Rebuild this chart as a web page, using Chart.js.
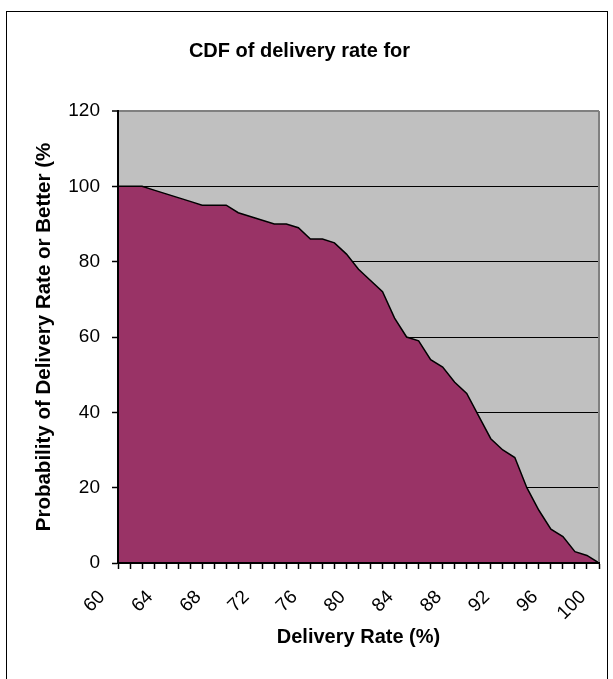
<!DOCTYPE html>
<html>
<head>
<meta charset="utf-8">
<script src="https://cdn.jsdelivr.net/npm/chart.js@4.4.1/dist/chart.umd.min.js"></script>
<style>
  html, body { margin: 0; padding: 0; background: #fff; }
  canvas { display: block; }
</style>
</head>
<body>
<canvas id="cdf" width="613" height="679"></canvas>
<script>
// categories on the x axis (delivery rate, %)
const deliveryRate = ['60','61','62','63','64','65','66','67','68','69',
                      '70','71','72','73','74','75','76','77','78','79',
                      '80','81','82','83','84','85','86','87','88','89',
                      '90','91','92','93','94','95','96','97','98','99','100'];
// probability of that delivery rate or better (%)
const probability = [100,100,100,99,98,97,96,95,95,95,
                     93,92,91,90,90,89,86,86,85,82,
                     78,75,72,65,60,59,54,52,48,45,
                     39,33,30,28,20,14,9,7,3,2,0];
// x labels that are printed (every 4th)
const shownLabels = ['60','64','68','72','76','80','84','88','92','96','100'];
const yMin = 0, yMax = 120, yStep = 20;

const font = 'Liberation Sans, Arial, sans-serif';

// grey plot area and outer frame, like the spreadsheet chart
const frame = {
  id: 'frame',
  beforeDraw(chart) {
    const {ctx, chartArea: a} = chart;
    ctx.save();
    ctx.fillStyle = '#c0c0c0';
    ctx.fillRect(a.left, a.top, a.right - a.left, a.bottom - a.top);
    ctx.strokeStyle = '#000';
    ctx.lineWidth = 1;
    ctx.strokeRect(6.5, 11.5, 601, 700);
    ctx.restore();
  },
  afterDatasetsDraw(chart) {
    const {ctx, chartArea: a} = chart;
    ctx.save();
    ctx.strokeStyle = '#808080';
    ctx.lineWidth = 2;
    ctx.beginPath();
    ctx.moveTo(a.right, a.top);
    ctx.lineTo(a.right, a.bottom);
    ctx.stroke();
    ctx.restore();
  }
};

new Chart(document.getElementById('cdf'), {
  type: 'line',
  data: {
    labels: deliveryRate,
    datasets: [{
      data: probability,
      fill: 'origin',
      backgroundColor: '#993366',
      borderColor: '#000',
      borderWidth: 1.5,
      pointRadius: 0,
      tension: 0
    }]
  },
  options: {
    responsive: false,
    animation: false,
    layout: { padding: { left: 0, right: 14, top: 0, bottom: 0 } },
    plugins: {
      legend: { display: false },
      tooltip: { enabled: false },
      title: {
        display: true,
        text: 'CDF of delivery rate for',
        color: '#000',
        font: { family: font, size: 20, weight: 'bold' },
        padding: { top: 39, bottom: 48 }
      }
    },
    scales: {
      x: {
        type: 'category',
        offset: false,
        afterFit(s) { s.height = 116; s.paddingLeft = 0; s.paddingRight = 0; },
        grid: { drawOnChartArea: false, drawTicks: true, tickLength: 6, tickColor: '#000', tickWidth: 1.5 },
        border: { color: '#000', width: 2, z: 1 },
        ticks: {
          autoSkip: false,
          minRotation: 45,
          maxRotation: 45,
          padding: 17,
          labelOffset: -16,
          color: '#000',
          font: { family: font, size: 19 },
          callback(value) {
            const l = this.getLabelForValue(value);
            return shownLabels.includes(l) ? l : '';
          }
        },
        title: {
          display: true,
          text: 'Delivery Rate (%)',
          color: '#000',
          font: { family: font, size: 20, weight: 'bold' },
          padding: { top: 0, bottom: 30 }
        }
      },
      y: {
        min: yMin,
        max: yMax,
        afterFit(s) { s.width = 118; s.paddingTop = 0; s.paddingBottom = 0; },
        grid: {
          color: c => c.tick && c.tick.value === yMax ? '#808080' : '#000',
          lineWidth: c => c.tick && c.tick.value === yMax ? 2 : 1,
          tickLength: 6,
          tickColor: '#000',
          tickWidth: 1.5
        },
        border: { color: '#000', width: 2, z: 1 },
        ticks: {
          stepSize: yStep,
          padding: 12,
          color: '#000',
          font: { family: font, size: 19 }
        },
        title: {
          display: true,
          text: 'Probability of Delivery Rate or Better (%',
          color: '#000',
          font: { family: font, size: 20.5, weight: 'bold' },
          padding: { top: 32, bottom: 0 }
        }
      }
    }
  },
  plugins: [frame]
});
</script>
</body>
</html>
